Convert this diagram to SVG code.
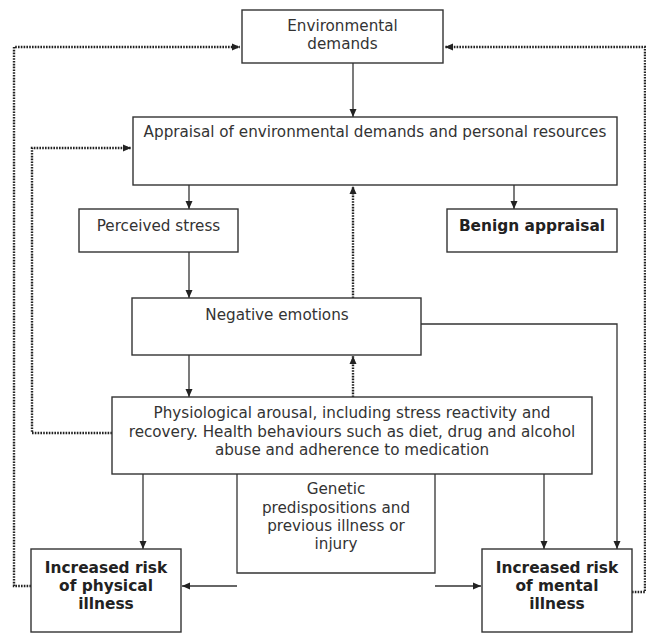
<svg xmlns="http://www.w3.org/2000/svg" width="646" height="633" viewBox="0 0 646 633">
<defs>
<marker id="ah" viewBox="0 0 8 8" refX="8" refY="4" markerWidth="8" markerHeight="8" markerUnits="userSpaceOnUse" orient="auto">
<path d="M0,0.5 L8,4 L0,7.5 Z" fill="#222"/>
</marker>
</defs>
<style>
.box{fill:#fff;stroke:#333;stroke-width:1.4}
.t{font-family:"DejaVu Sans",Verdana,sans-serif;font-size:15.2px;fill:#333;text-anchor:middle}
.b{font-weight:bold;fill:#222;font-size:15.4px}
.c{fill:none;stroke:#333;stroke-width:1.3}
.d{fill:none;stroke:#222;stroke-width:2.4;stroke-dasharray:1.6 1.2}
</style>
<rect width="646" height="633" fill="#fff"/>
<g id="connectors">
<path class="d" d="M31,586 H14 V47 H240" marker-end="url(#ah)"/>
<path class="d" d="M632,592 H645 V47 H445" marker-end="url(#ah)"/>
<path class="d" d="M112,433 H32 V148 H131" marker-end="url(#ah)"/>
<path class="c" d="M353,63 V117" marker-end="url(#ah)"/>
<path class="c" d="M189,185 V209" marker-end="url(#ah)"/>
<path class="c" d="M514,185 V209" marker-end="url(#ah)"/>
<path class="c" d="M189,252 V298" marker-end="url(#ah)"/>
<path class="d" d="M353,298 V186" marker-end="url(#ah)"/>
<path class="c" d="M421,324 H617 V549" marker-end="url(#ah)"/>
<path class="c" d="M189,355 V397" marker-end="url(#ah)"/>
<path class="d" d="M353,397 V356" marker-end="url(#ah)"/>
<path class="c" d="M143,474 V549" marker-end="url(#ah)"/>
<path class="c" d="M544,474 V549" marker-end="url(#ah)"/>
<path class="c" d="M237,586 H182" marker-end="url(#ah)"/>
<path class="c" d="M435,586 H481" marker-end="url(#ah)"/>
</g>
<g id="env">
<rect class="box" x="242" y="10" width="201" height="53"/>
<text class="t" x="342.5" y="31">Environmental</text>
<text class="t" x="342.5" y="49">demands</text>
</g>
<g id="appraisal">
<rect class="box" x="133" y="117" width="484" height="68"/>
<text class="t" x="375" y="137">Appraisal of environmental demands and personal resources</text>
</g>
<g id="perceived">
<rect class="box" x="79" y="209" width="159" height="43"/>
<text class="t" x="158.5" y="231">Perceived stress</text>
</g>
<g id="benign">
<rect class="box" x="447" y="209" width="170" height="43"/>
<text class="t b" x="532" y="231">Benign appraisal</text>
</g>
<g id="negative">
<rect class="box" x="132" y="298" width="289" height="57"/>
<text class="t" x="277" y="320">Negative emotions</text>
</g>
<g id="physio">
<rect class="box" x="112" y="397" width="480" height="77"/>
<text class="t" x="352" y="418">Physiological arousal, including stress reactivity and</text>
<text class="t" x="352" y="437">recovery. Health behaviours such as diet, drug and alcohol</text>
<text class="t" x="352" y="455">abuse and adherence to medication</text>
</g>
<g id="genetic">
<path class="c" d="M237,474 V573 H435 V474"/>
<text class="t" x="336" y="494">Genetic</text>
<text class="t" x="336" y="513">predispositions and</text>
<text class="t" x="336" y="531">previous illness or</text>
<text class="t" x="336" y="549">injury</text>
</g>
<g id="physical">
<rect class="box" x="31" y="549" width="150" height="83"/>
<text class="t b" x="106" y="573">Increased risk</text>
<text class="t b" x="106" y="591">of physical</text>
<text class="t b" x="106" y="609">illness</text>
</g>
<g id="mental">
<rect class="box" x="482" y="549" width="150" height="83"/>
<text class="t b" x="557" y="573">Increased risk</text>
<text class="t b" x="557" y="591">of mental</text>
<text class="t b" x="557" y="609">illness</text>
</g>
</svg>
